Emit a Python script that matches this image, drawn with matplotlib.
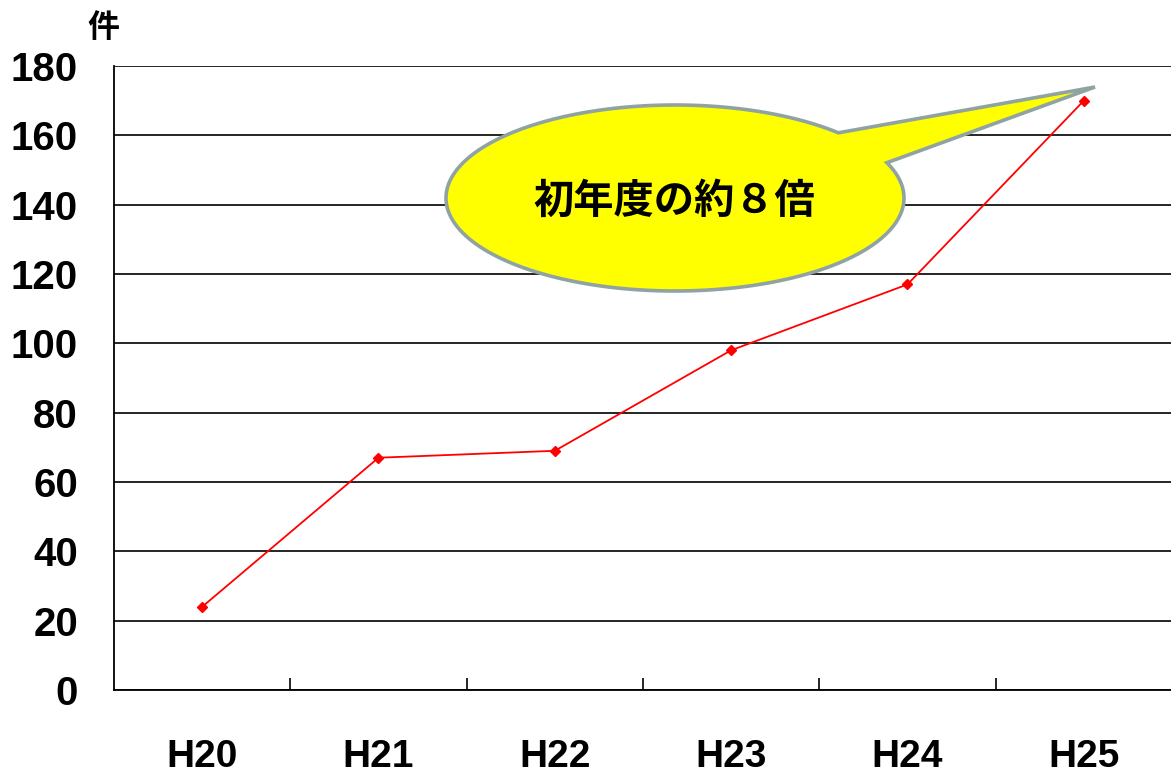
import numpy as np
import matplotlib
matplotlib.use("Agg")
import matplotlib.pyplot as plt
from matplotlib.path import Path
from matplotlib.patches import PathPatch

# Yearly counts (件)
years = ["H20", "H21", "H22", "H23", "H24", "H25"]
counts = [24, 67, 69, 98, 117, 170]
y_ticks = [0, 20, 40, 60, 80, 100, 120, 140, 160, 180]
callout_text = "初年度の約８倍"
unit_label = "件"

W, H = 1171, 776
fig = plt.figure(figsize=(W / 100, H / 100), dpi=100)
fig.patch.set_facecolor("white")

ax = fig.add_axes([114 / W, (H - 690) / H, 1058 / W, 624 / H])
ax.set_facecolor("none")

x = np.arange(len(years))
ax.plot(x, counts, color="#FF0000", lw=1.3, marker="D", markersize=5.5,
        markerfacecolor="#FF0000", markeredgecolor="#FF0000", zorder=3)

ax.set_xlim(-0.5, len(years) - 0.5)
ax.set_ylim(0, 180)
ax.set_yticks(y_ticks)
ax.set_yticklabels([str(v) for v in y_ticks])
ax.set_xticks(x)
ax.set_xticklabels(years)
ax.set_xticks(np.arange(0.5, len(years) - 1, 1.0), minor=True)

for spine in ("top", "right"):
    ax.spines[spine].set_visible(False)
for spine in ("left", "bottom"):
    ax.spines[spine].set_color("black")
    ax.spines[spine].set_linewidth(1.3)

ax.grid(axis="y", color="black", lw=1.2)
ax.set_axisbelow(True)

ax.tick_params(axis="y", length=0, pad=26, labelsize=29)
ax.tick_params(axis="x", which="major", length=0, pad=35, labelsize=28)
ax.tick_params(axis="x", which="minor", direction="in", length=9, width=1.2, color="black")
for lab in ax.get_xticklabels() + ax.get_yticklabels():
    lab.set_fontfamily("Liberation Sans")
    lab.set_fontweight("bold")

# unit label above the y axis
fig.text(103 / W, 1 - 28 / H, unit_label, ha="center", va="center",
         fontsize=23, fontweight="bold", family=["Noto Sans CJK JP", "DejaVu Sans"])

# speech-bubble callout pointing at the last point (built in pixel space)
cx, cy = 675, H - 198
a, b = 229, 93
t0, t1 = np.deg2rad(44.5), np.deg2rad(22.3 + 360)
t = np.linspace(t0, t1, 300)
ex = cx + a * np.cos(t)
ey = cy + b * np.sin(t)
tip = (1095, H - 87)
verts = list(zip(ex, ey)) + [tip, (ex[0], ey[0])]
codes = [Path.MOVETO] + [Path.LINETO] * (len(verts) - 2) + [Path.CLOSEPOLY]
px_to_fig = matplotlib.transforms.Affine2D().scale(1 / W, 1 / H) + fig.transFigure
bubble = PathPatch(Path(verts, codes), facecolor="#FFFF00", edgecolor="#8FA3A3",
                   lw=2.6, joinstyle="miter", transform=px_to_fig, zorder=5)
fig.patches.append(bubble)

fig.text(674 / W, 1 - 201 / H, callout_text, ha="center", va="center",
         fontsize=29, fontweight="bold", family=["Noto Sans CJK JP", "DejaVu Sans"],
         zorder=6)

fig.savefig("out.png", dpi=100, facecolor="white")
